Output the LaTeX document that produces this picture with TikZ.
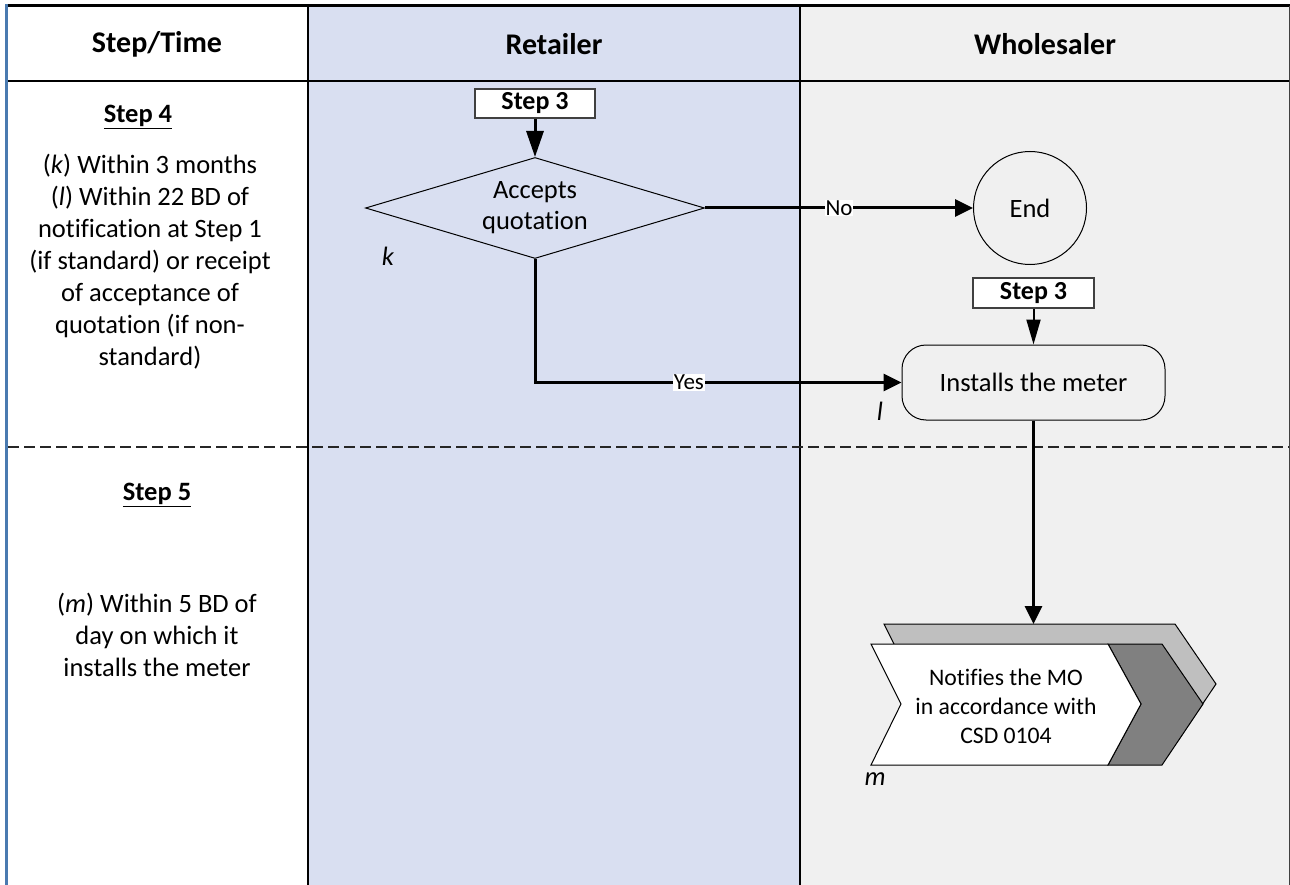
\documentclass[tikz,border=0pt]{standalone}
\usepackage{fontspec}
\setmainfont{Carlito}[Ligatures=NoCommon]
\usetikzlibrary{shapes.geometric,arrows.meta}
\definecolor{retailbg}{RGB}{217,223,241}
\definecolor{wholebg}{RGB}{240,240,240}
\definecolor{edgeblue}{RGB}{74,122,176}
\definecolor{chevlight}{RGB}{191,191,191}
\definecolor{chevdark}{RGB}{128,128,128}
\definecolor{boxedge}{RGB}{64,64,64}
\begin{document}
\begin{tikzpicture}[x=1pt,y=-1pt,
  headtext/.style={font=\fontsize{30}{36}\selectfont\bfseries},
  bodytext/.style={font=\fontsize{26.5}{32}\selectfont, align=center, inner sep=0pt},
  steptitle/.style={font=\fontsize{26.5}{32}\selectfont\bfseries, inner sep=0pt},
  refbox/.style={draw=boxedge, line width=1.5pt, fill=white, inner sep=0pt,
    font=\fontsize{26}{30}\selectfont\bfseries},
  flowtext/.style={font=\fontsize{26.5}{31}\selectfont, align=center},
  tag/.style={font=\fontsize{26.5}{32}\selectfont\itshape, inner sep=0pt},
  branch/.style={font=\fontsize{23}{26}\selectfont, fill=white, inner sep=1pt},
  flow/.style={line width=3pt, -{Triangle[length=18pt,width=17pt]}},
  lane/.style={line width=2.5pt, black},
  rowsep/.style={line width=2pt, black!85, dash pattern=on 11pt off 5pt},
  chevedge/.style={draw=black, line width=1pt, line join=miter}]

\useasboundingbox (0,0) rectangle (1290,885);

% lane backgrounds
\fill[white] (0,0) rectangle (1290,885);
\fill[retailbg] (308,6) rectangle (800,885);
\fill[wholebg] (800,6) rectangle (1289,885);

% table frame
\draw[line width=3pt] (5,6) -- (1290,6);
\draw[lane] (6,81) -- (1289,81);
\draw[lane] (308,6) -- (308,885);
\draw[lane] (800,6) -- (800,885);
\draw[rowsep] (8,447) -- (1289,447);
\draw[edgeblue, line width=3pt] (6.5,4.5) -- (6.5,885);
\draw[boxedge, line width=1pt] (1289,6) -- (1289,885);

% column headings
\node[headtext] (hstep) at (157,44) {Step/Time};
\node[headtext] (hretail) at (554,44) {Retailer};
\node[headtext] (hwhole) at (1045,44) {Wholesaler};

% step/time column
\node[steptitle] (s4) at (138,117) {\underline{Step 4}};
\node[bodytext] (s4text) at (150,262) {(\textit{k}) Within 3 months\\(\textit{l}) Within 22 BD of\\notification at Step 1\\(if standard) or receipt\\of acceptance of\\quotation (if non-\\standard)};
\node[steptitle] (s5) at (157,495) {\underline{Step 5}};
\node[bodytext] (s5text) at (157,635) {(\textit{m}) Within 5 BD of\\day on which it\\installs the meter};

% retailer lane
\node[refbox, minimum width=120pt, minimum height=29pt] (rstep) at (535,103.5) {Step 3};
\node[diamond, aspect=3.36, draw, line width=1pt, inner sep=0pt, minimum width=339pt, minimum height=101pt, flowtext] (accept) at (535,208) {Accepts\\quotation};
\node[tag] (ktag) at (388,256) {k};

% wholesaler lane
\node[circle, draw, line width=1pt, minimum size=113pt, inner sep=0pt, flowtext] (end) at (1030,208) {End};
\node[refbox, minimum width=121pt, minimum height=30pt] (wstep) at (1033.5,293) {Step 3};
\node[draw, line width=1pt, rounded corners=24pt, minimum width=263pt, minimum height=75pt, flowtext] (install) at (1033.5,382.5) {Installs the meter};
\node[tag] (ltag) at (880,411) {l};

% notification chevron: shadow layer, dark band, white face
\filldraw[chevedge, fill=chevlight] (884,624) -- (1175,624) -- (1216,684) -- (1175,745) -- (884,745) -- (914,684) -- cycle;
\filldraw[chevedge, fill=chevdark] (1108,644) -- (1162,644) -- (1203,704) -- (1162,765) -- (1108,765) -- (1141,704) -- cycle;
\filldraw[chevedge, fill=white] (871,644) -- (1108,644) -- (1141,704) -- (1108,765) -- (871,765) -- (901,704) -- cycle;
\coordinate (notifytop) at (1033.5,624);
\node[font=\fontsize{23.7}{29}\selectfont, align=center] (notify) at (1006,706) {Notifies the MO\\in accordance with\\CSD 0104};
\node[tag] (mtag) at (875,779) {m};

% connectors
\draw[line width=3pt, -{Triangle[length=26pt,width=17pt]}] (rstep.south) -- (accept.north);
\draw[flow] (accept.east) -- node[branch, pos=0.5] (nolabel) {No} (end.west);
\draw[flow] (accept.south) |- node[branch, pos=0.71] (yeslabel) {Yes} (install.west);
\draw[line width=2pt, -{Triangle[length=25pt,width=14pt]}] (wstep.south) -- (install.north);
\draw[flow] (install.south) -- (notifytop);

\end{tikzpicture}
\end{document}
